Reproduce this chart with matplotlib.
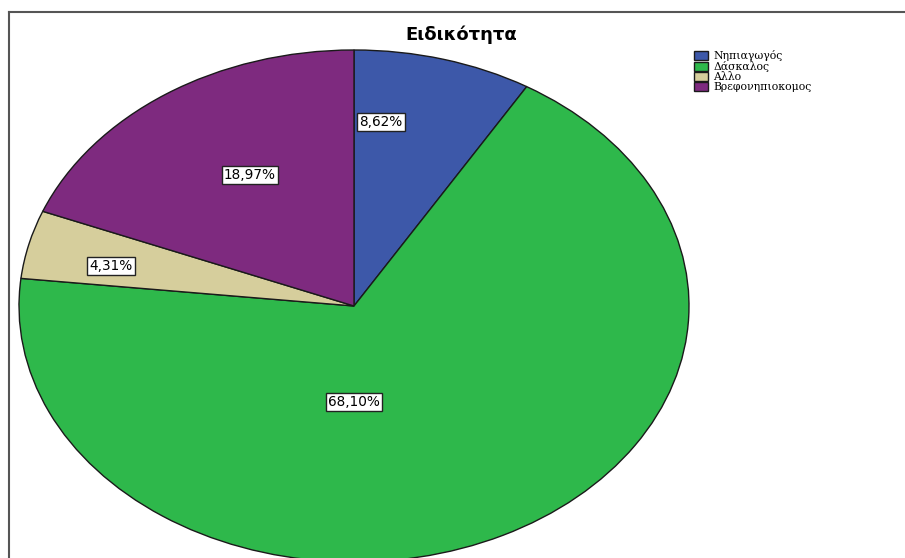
import matplotlib

matplotlib.use("Agg")
import matplotlib.pyplot as plt
from matplotlib.lines import Line2D

# data
labels = ["Νηπιαγωγός", "Δάσκαλος", "Αλλο", "Βρεφονηπιοκομος"]
shares = [8.62, 68.10, 4.31, 18.97]
colors = ["#3d58a9", "#2eb84b", "#d6ce9c", "#7e2a7f"]

W, H = 905, 558
CX, CY = 354, 306      # pie centre in pixels (from top-left)
RX, RY = 335, 256      # horizontal / vertical radius in pixels

# label box centres in pixels (layout only)
label_px = [(381, 122), (354, 402), (111, 266), (250, 175)]

fig = plt.figure(figsize=(W / 100, H / 100), dpi=100)
ax = fig.add_axes([0, 0, 1, 1])

wedges, _ = ax.pie(shares, colors=colors, startangle=90, counterclock=False,
                   wedgeprops=dict(edgecolor="#1a1a1a", linewidth=1.0))
ax.set_aspect("auto")
ax.set_xlim(-CX / RX, (W - CX) / RX)
ax.set_ylim(-(H - CY) / RY, CY / RY)
ax.axis("off")

for v, (px, py) in zip(shares, label_px):
    ax.text((px - CX) / RX, (CY - py) / RY, f"{v:.2f}%".replace(".", ","),
            ha="center", va="center", fontsize=9.8, family="DejaVu Sans",
            bbox=dict(boxstyle="square,pad=0.18", facecolor="white",
                      edgecolor="#222222", linewidth=1.0))

fig.text(461 / W, 1 - 35 / H, "Ειδικότητα", ha="center", va="center",
         fontsize=13, fontweight="bold", family="DejaVu Sans")

fig.legend(wedges, labels, loc="upper left", bbox_to_anchor=(694 / W, 1 - 50 / H),
           frameon=False, prop=dict(family="DejaVu Serif", size=7.8),
           handlelength=1.3, handleheight=0.85, handletextpad=0.5,
           labelspacing=0.0, borderpad=0, borderaxespad=0)

# outer frame: top and left edges only are visible
fig.add_artist(Line2D([9 / W, 9 / W], [0, 1 - 12 / H], color="#555555", linewidth=1.5))
fig.add_artist(Line2D([9 / W, 1], [1 - 12 / H, 1 - 12 / H], color="#555555", linewidth=1.5))

fig.savefig("out.png", dpi=100)
